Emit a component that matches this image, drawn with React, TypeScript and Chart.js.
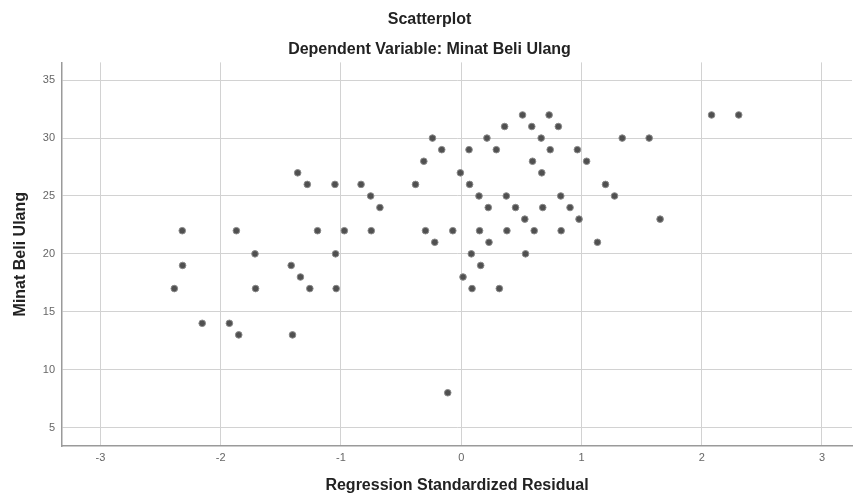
import React, { useEffect, useRef } from "react";
import { Chart, registerables } from "chart.js";

Chart.register(...registerables);

const residuals: number[] = [
  -1.36, -1.28, -1.05, -2.32, -1.87, -1.195, -1.715, -1.045, -2.317, -1.414, -1.337, -2.386, -1.71, -1.259, -1.04,
  -2.154, -1.928, -1.85, -1.403,
  0.51, 0.731, 0.361, 0.587, 0.808, -0.239, 0.214, 0.665, -0.162, 0.065, 0.292, 0.74, 0.966, -0.311, 0.593, 1.043,
  -0.007, 0.67, -0.833, -0.38, 0.07, -0.753, 0.148, 0.375, 0.828, -0.676, 0.225, 0.452, 0.678, 0.905, 0.529, 0.98,
  -0.972, -0.748, -0.297, -0.07, 0.153, 0.38, 0.607, 0.831, 1.133, -0.22, 0.231, 0.084, 0.535, 0.162, 0.015, 0.09,
  0.317, -0.112,
  2.082, 2.308, 1.339, 1.563, 1.2, 1.275, 1.654,
];

const minatBeliUlang: number[] = [
  27, 26, 26, 22, 22, 22, 20, 20, 19, 19, 18, 17, 17, 17, 17, 14, 14, 13, 13,
  32, 32, 31, 31, 31, 30, 30, 30, 29, 29, 29, 29, 29, 28, 28, 28, 27, 27, 26, 26, 26, 25, 25, 25, 25, 24, 24, 24,
  24, 24, 23, 23, 22, 22, 22, 22, 22, 22, 22, 22, 21, 21, 21, 20, 20, 19, 18, 17, 17, 8,
  32, 32, 30, 30, 26, 25, 23,
];

const xTicks: number[] = [-3, -2, -1, 0, 1, 2, 3];
const yTicks: number[] = [5, 10, 15, 20, 25, 30, 35];

const titleText = "Scatterplot";
const subtitleText = "Dependent Variable: Minat Beli Ulang";
const xTitle = "Regression Standardized Residual";
const yTitle = "Minat Beli Ulang";

const FONT = "'Liberation Sans', Arial, sans-serif";

export default function App() {
  const ref = useRef<HTMLCanvasElement | null>(null);

  useEffect(() => {
    document.body.style.margin = "0";
    const canvas = ref.current;
    if (!canvas) return;
    const points = residuals.map((r, i) => ({ x: r, y: minatBeliUlang[i] }));
    const chart = new Chart(canvas, {
      type: "scatter",
      data: {
        datasets: [
          {
            data: points,
            backgroundColor: "#505050",
            borderColor: "#8a8a8a",
            borderWidth: 1,
            pointRadius: 3.3,
          },
        ],
      },
      options: {
        responsive: false,
        animation: false,
        layout: { padding: { left: 0, right: -2, top: 0, bottom: 0 } },
        plugins: {
          legend: { display: false },
          tooltip: { enabled: false },
          title: {
            display: true,
            text: titleText,
            color: "#222222",
            font: { family: FONT, size: 16, weight: "bold" },
            padding: { top: 10, bottom: 6 },
          },
          subtitle: {
            display: true,
            text: subtitleText,
            color: "#222222",
            font: { family: FONT, size: 16, weight: "bold" },
            padding: { top: 5, bottom: 3 },
          },
        },
        scales: {
          x: {
            type: "linear",
            min: -3.32,
            max: 3.25,
            afterFit: (s: any) => {
              s.height = 54;
            },
            afterBuildTicks: (s: any) => {
              s.ticks = xTicks.map((v) => ({ value: v }));
            },
            ticks: {
              includeBounds: false,
              color: "#666666",
              font: { family: FONT, size: 11 },
              padding: 5,
              callback: (v: any) => String(v),
            },
            grid: { color: "#d2d2d2", lineWidth: 1, drawTicks: false },
            border: { display: true, color: "#9a9a9a", width: 1.5 },
            title: {
              display: true,
              text: xTitle,
              color: "#222222",
              font: { family: FONT, size: 16, weight: "bold" },
              padding: { top: 0, bottom: 5 },
            },
          },
          y: {
            type: "linear",
            min: 3.4,
            max: 36.54,
            afterFit: (s: any) => {
              s.width = 62;
            },
            afterBuildTicks: (s: any) => {
              s.ticks = yTicks.map((v) => ({ value: v }));
            },
            ticks: {
              includeBounds: false,
              color: "#666666",
              font: { family: FONT, size: 11 },
              padding: 7,
              callback: (v: any) => String(v),
            },
            grid: { color: "#d2d2d2", lineWidth: 1, drawTicks: false },
            border: { display: true, color: "#9a9a9a", width: 1.5 },
            title: {
              display: true,
              text: yTitle,
              color: "#222222",
              font: { family: FONT, size: 16, weight: "bold" },
              padding: { top: 11, bottom: 0 },
            },
          },
        },
      },
    });
    return () => chart.destroy();
  }, []);

  return (
    <div style={{ width: 857, height: 500, background: "#ffffff" }}>
      <canvas ref={ref} width={857} height={500} style={{ display: "block" }} />
    </div>
  );
}
